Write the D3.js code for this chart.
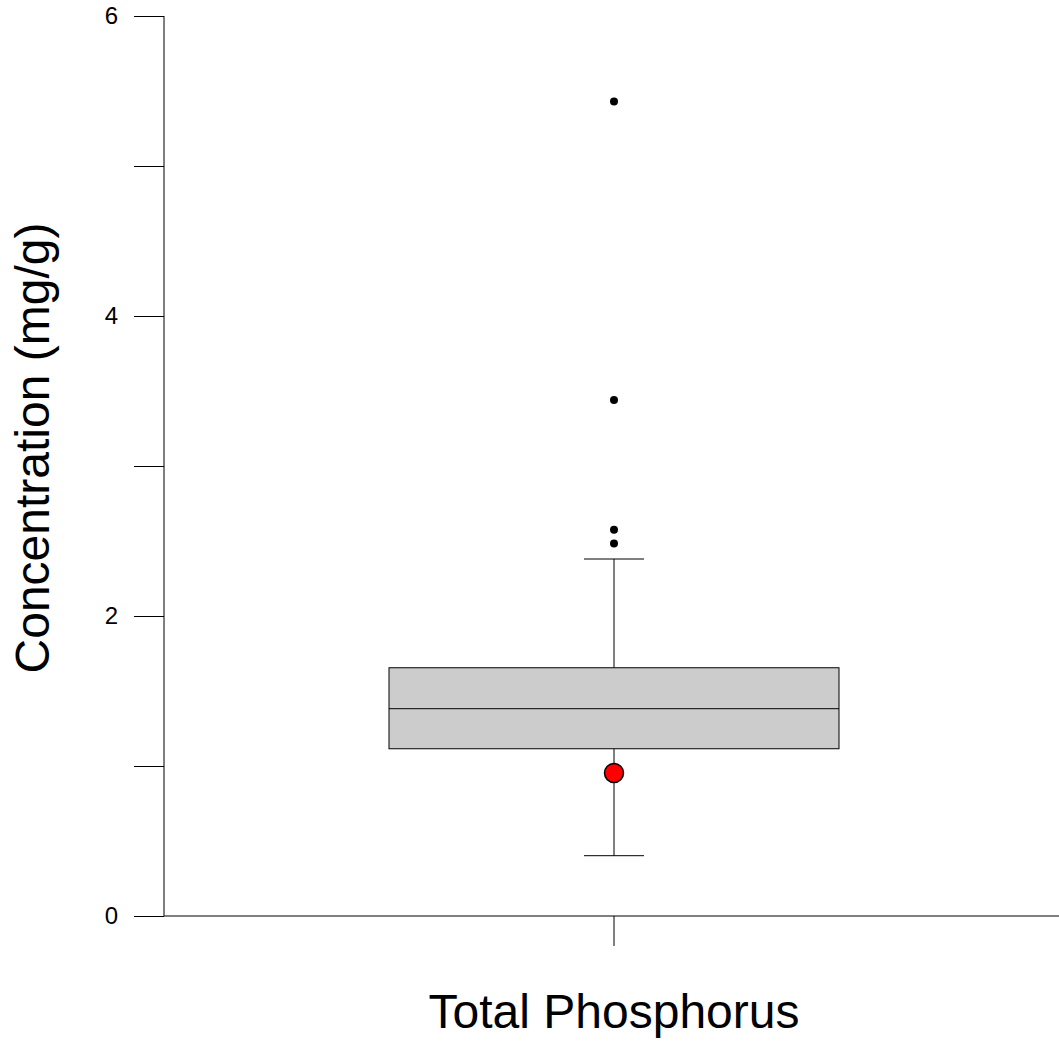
<!DOCTYPE html>
<html>
<head>
<meta charset="utf-8">
<script src="https://cdn.jsdelivr.net/npm/d3@7"></script>
<style>
  body { margin: 0; background: #fff; }
  text { font-family: "Liberation Sans", Arial, sans-serif; fill: #000; }
</style>
</head>
<body>
<script>
// chart values
var categories = ["Total Phosphorus"]
var boxStats = [{q1: 1.115, median: 1.382, q3: 1.655, lower: 0.402, upper: 2.38}]
var outliers = [5.43, 3.44, 2.575, 2.484]
var highlight = [0.953]
var yTicks = [0, 1, 2, 3, 4, 5, 6]
var yLabels = [0, 2, 4, 6]

var width = 1059, height = 1042

var svg = d3.select("body").append("svg")
    .attr("width", width)
    .attr("height", height)

var y = d3.scaleLinear().domain([0, 6]).range([916, 16])
var x = d3.scaleBand().domain(categories).range([164, 1064]).paddingInner(0).paddingOuter(0)

// y axis
var yAxis = d3.axisLeft(y)
    .tickValues(yTicks)
    .tickSize(30)
    .tickPadding(16)
    .tickFormat(function(d){ return yLabels.indexOf(d) >= 0 ? d : "" })

var gy = svg.append("g")
    .attr("transform", "translate(164,0)")
    .call(yAxis)
gy.selectAll(".tick text")
    .attr("font-size", "24px")
    .style("font-size", "24px")
gy.select(".domain").attr("d", "M0," + y(0) + "V" + y(6))
gy.selectAll("line").attr("stroke", "#000")

// x axis
var xAxis = d3.axisBottom(x).tickSize(30).tickFormat("")
var gx = svg.append("g").attr("transform", "translate(0," + y(0) + ")").call(xAxis)
gx.select(".domain").attr("d", "M164,0H" + width)

// box
var cx = x(categories[0]) + x.bandwidth() / 2
var boxW = x.bandwidth() / 2
var capW = 60
var s = boxStats[0]

svg.append("line")
    .attr("x1", cx).attr("x2", cx)
    .attr("y1", y(s.upper)).attr("y2", y(s.q3))
    .attr("stroke", "#000")
svg.append("line")
    .attr("x1", cx).attr("x2", cx)
    .attr("y1", y(s.q1)).attr("y2", y(s.lower))
    .attr("stroke", "#000")
svg.append("line")
    .attr("x1", cx - capW/2).attr("x2", cx + capW/2)
    .attr("y1", y(s.upper)).attr("y2", y(s.upper))
    .attr("stroke", "#000")
svg.append("line")
    .attr("x1", cx - capW/2).attr("x2", cx + capW/2)
    .attr("y1", y(s.lower)).attr("y2", y(s.lower))
    .attr("stroke", "#000")

svg.append("rect")
    .attr("x", cx - boxW/2)
    .attr("y", y(s.q3))
    .attr("width", boxW)
    .attr("height", y(s.q1) - y(s.q3))
    .attr("fill", "#cccccc")
    .attr("stroke", "#000")
svg.append("line")
    .attr("x1", cx - boxW/2).attr("x2", cx + boxW/2)
    .attr("y1", y(s.median)).attr("y2", y(s.median))
    .attr("stroke", "#000")

// outliers
svg.selectAll(".out").data(outliers).enter().append("circle")
    .attr("class", "out")
    .attr("cx", cx)
    .attr("cy", function(d){ return y(d) })
    .attr("r", 4)
    .attr("fill", "#000")

// highlighted point
svg.selectAll(".hl").data(highlight).enter().append("circle")
    .attr("class", "hl")
    .attr("cx", cx)
    .attr("cy", function(d){ return y(d) })
    .attr("r", 9.5)
    .attr("fill", "#ff0000")
    .attr("stroke", "#000")
    .attr("stroke-width", 1.5)

// titles
svg.append("text")
    .attr("x", cx)
    .attr("y", 1028)
    .attr("text-anchor", "middle")
    .style("font-size", "48px")
    .text(categories[0])

svg.append("text")
    .attr("transform", "translate(49,448) rotate(-90)")
    .attr("text-anchor", "middle")
    .style("font-size", "48px")
    .text("Concentration (mg/g)")
</script>
</body>
</html>
